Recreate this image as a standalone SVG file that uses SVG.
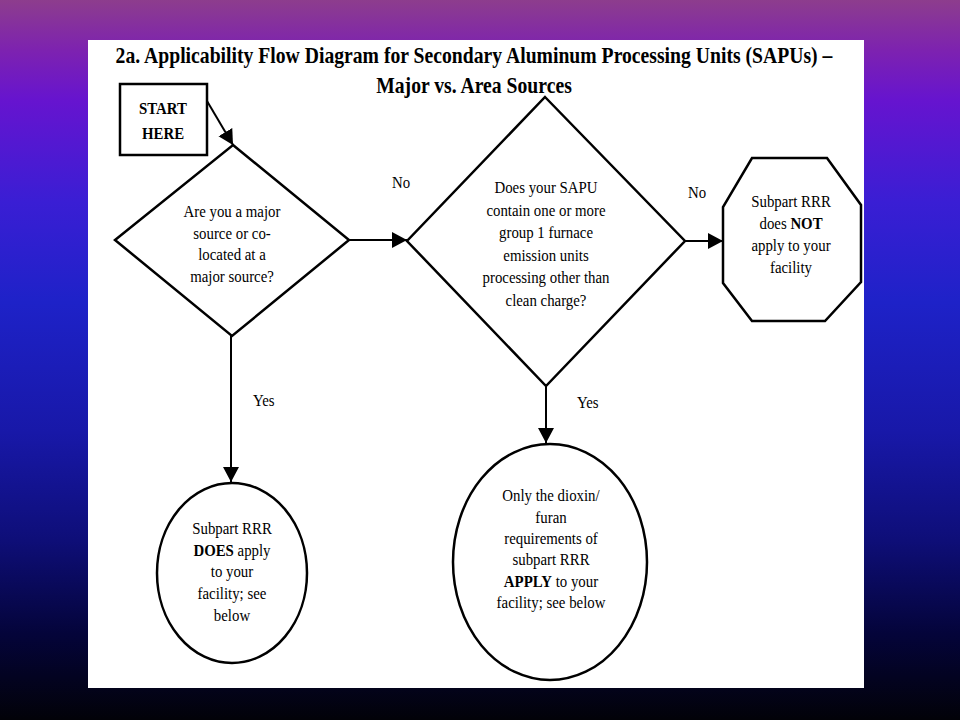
<svg xmlns="http://www.w3.org/2000/svg" width="960" height="720" viewBox="0 0 960 720">
  <defs>
    <linearGradient id="bg" x1="0" y1="0" x2="0" y2="1">
      <stop offset="0" stop-color="#8D3D8D"/>
      <stop offset="0.07" stop-color="#7D22B0"/>
      <stop offset="0.14" stop-color="#6614CF"/>
      <stop offset="0.28" stop-color="#3A1ED4"/>
      <stop offset="0.42" stop-color="#1E22C8"/>
      <stop offset="0.6" stop-color="#1818A8"/>
      <stop offset="0.75" stop-color="#0E0E78"/>
      <stop offset="0.88" stop-color="#04043A"/>
      <stop offset="1" stop-color="#020208"/>
    </linearGradient>
    <marker id="arr" markerUnits="userSpaceOnUse" markerWidth="16" markerHeight="17" refX="15" refY="8" orient="auto">
      <path d="M0,0 L15,8 L0,16 z" fill="#000"/>
    </marker>
    <style>
      text { font-family: "Liberation Serif", "Times New Roman", serif; fill: #000; }
      .t { font-size: 16.5px; text-anchor: middle; }
      .lbl { font-size: 16.5px; }
      .b { font-weight: bold; }
      .title { font-size: 24px; font-weight: bold; text-anchor: middle; }
      .shape { fill: #fff; stroke: #000; stroke-width: 2.5; }
      .conn { fill: none; stroke: #000; stroke-width: 2; }
    </style>
  </defs>

  <rect x="0" y="0" width="960" height="720" fill="url(#bg)"/>
  <rect x="88" y="40" width="776" height="648" fill="#fff"/>

  <g id="title" transform="translate(474 0) scale(0.82 1)">
    <text class="title" x="0" y="63">2a. Applicability Flow Diagram for Secondary Aluminum Processing Units (SAPUs) –</text>
    <text class="title" x="0" y="93">Major vs. Area Sources</text>
  </g>

  <g id="connectors">
    <line class="conn" x1="207" y1="101" x2="233" y2="145" stroke-width="3.5" marker-end="url(#arr)"/>
    <line class="conn" x1="349" y1="240" x2="407" y2="240" marker-end="url(#arr)"/>
    <line class="conn" x1="685" y1="241" x2="723" y2="241" marker-end="url(#arr)"/>
    <line class="conn" x1="231" y1="336" x2="231" y2="482" marker-end="url(#arr)"/>
    <line class="conn" x1="546" y1="386" x2="546" y2="443" marker-end="url(#arr)"/>
    <g transform="translate(392 0) scale(0.9 1)"><text class="lbl" x="0" y="188">No</text></g>
    <g transform="translate(688 0) scale(0.9 1)"><text class="lbl" x="0" y="198">No</text></g>
    <g transform="translate(253 0) scale(0.9 1)"><text class="lbl" x="0" y="406">Yes</text></g>
    <g transform="translate(577 0) scale(0.9 1)"><text class="lbl" x="0" y="408">Yes</text></g>
  </g>

  <g id="start">
    <rect class="shape" x="120" y="84" width="87" height="71" stroke-width="2"/>
    <g transform="translate(163 0) scale(0.9 1)">
      <text class="t b" x="0" y="114" font-size="19">START</text>
      <text class="t b" x="0" y="139" font-size="19">HERE</text>
    </g>
  </g>

  <g id="q1">
    <polygon class="shape" points="233,145 349,240 232,336 115,240"/>
    <g transform="translate(232 0) scale(0.9 1)">
      <text class="t" x="0" y="217">Are you a major</text>
      <text class="t" x="0" y="238.7">source or co-</text>
      <text class="t" x="0" y="260.4">located at a</text>
      <text class="t" x="0" y="282">major source?</text>
    </g>
  </g>

  <g id="q2">
    <polygon class="shape" points="545,97 685,241 546,386 407,241"/>
    <g transform="translate(546 0) scale(0.9 1)">
      <text class="t" x="0" y="193">Does your SAPU</text>
      <text class="t" x="0" y="215.6">contain one or more</text>
      <text class="t" x="0" y="238.2">group 1 furnace</text>
      <text class="t" x="0" y="260.8">emission units</text>
      <text class="t" x="0" y="283.4">processing other than</text>
      <text class="t" x="0" y="306">clean charge?</text>
    </g>
  </g>

  <g id="not-apply">
    <polygon class="shape" points="752,158 827,158 861,205 861,282 825,321 752,321 723,283 723,207"/>
    <g transform="translate(791 0) scale(0.9 1)">
      <text class="t" x="0" y="207.3">Subpart RRR</text>
      <text class="t" x="0" y="229">does <tspan class="b">NOT</tspan></text>
      <text class="t" x="0" y="251">apply to your</text>
      <text class="t" x="0" y="272.7">facility</text>
    </g>
  </g>

  <g id="does-apply">
    <ellipse class="shape" cx="232" cy="573" rx="75" ry="90"/>
    <g transform="translate(232 0) scale(0.9 1)">
      <text class="t" x="0" y="534">Subpart RRR</text>
      <text class="t" x="0" y="555.7"><tspan class="b">DOES</tspan> apply</text>
      <text class="t" x="0" y="577.4">to your</text>
      <text class="t" x="0" y="599">facility; see</text>
      <text class="t" x="0" y="620.7">below</text>
    </g>
  </g>

  <g id="dioxin-apply">
    <ellipse class="shape" cx="550" cy="562" rx="97" ry="118"/>
    <g transform="translate(551 0) scale(0.9 1)">
      <text class="t" x="0" y="501.5">Only the dioxin/</text>
      <text class="t" x="0" y="522.8">furan</text>
      <text class="t" x="0" y="544">requirements of</text>
      <text class="t" x="0" y="565.3">subpart RRR</text>
      <text class="t" x="0" y="586.6"><tspan class="b">APPLY</tspan> to your</text>
      <text class="t" x="0" y="608">facility; see below</text>
    </g>
  </g>
</svg>
